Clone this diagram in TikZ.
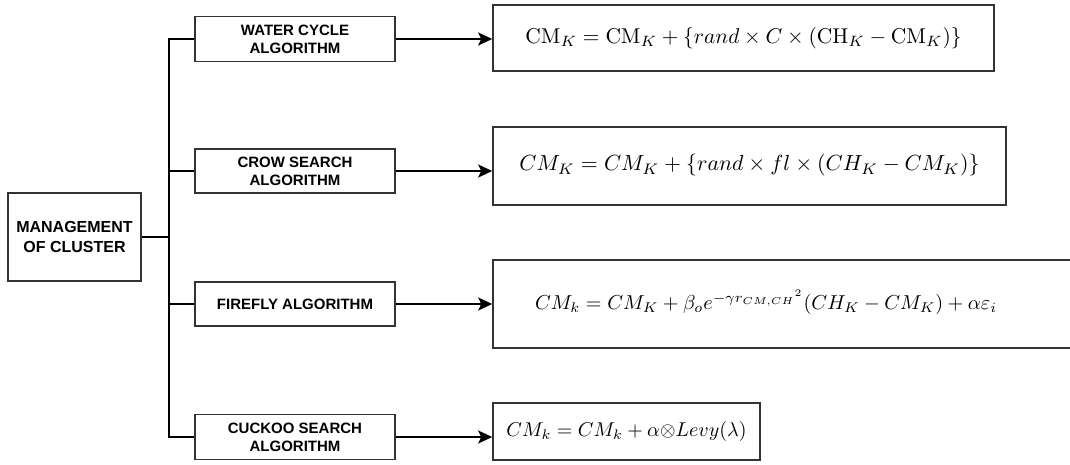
\documentclass[tikz,border=0pt]{standalone}
\usepackage{fontspec}
\usepackage{graphicx}
\setsansfont{Liberation Sans}
\usetikzlibrary{arrows.meta}
\begin{document}
\begin{tikzpicture}[x=1pt,y=-1pt,
  box/.style={draw=black!80,line width=1.6pt,rectangle,inner sep=0pt},
  algo/.style={box,minimum width=200pt,minimum height=45pt,align=center,
     font=\sffamily\bfseries\fontsize{15}{18}\selectfont},
  fbox/.style={box},
  conn/.style={line width=1.8pt,black},
  arr/.style={conn,-{Stealth[length=14pt,width=13pt,inset=3pt]}}]
\useasboundingbox (0,0) rectangle (1070,464);
\clip (0,0) rectangle (1070,464);
% left box
\node[box,minimum width=133pt,minimum height=88pt,align=center,
  font=\sffamily\bfseries\fontsize{16}{20.5}\selectfont] (mgmt) at (74.5,237) {MANAGEMENT\\OF CLUSTER};
% algorithm boxes
\node[algo] (water) at (295,39) {WATER CYCLE\\ALGORITHM};
\node[algo,minimum height=44pt] (crow) at (295,171) {CROW SEARCH\\ALGORITHM};
\node[algo,minimum height=44pt] (firefly) at (295,304) {FIREFLY ALGORITHM};
\node[algo] (cuckoo) at (295,437) {CUCKOO SEARCH\\ALGORITHM};
% formula boxes
\node[fbox,minimum width=501pt,minimum height=66pt] (f1) at (743.5,38)
  {\raisebox{3pt}{\resizebox{436pt}{!}{$\mathrm{CM}_K=\mathrm{CM}_K+\{rand\times C\times(\mathrm{CH}_K-\mathrm{CM}_K)\}$}}};
\node[fbox,minimum width=513pt,minimum height=78pt] (f2) at (749.5,166)
  {\raisebox{7pt}{\resizebox{460pt}{!}{$CM_K=CM_K+\{rand\times fl\times(CH_K-CM_K)\}$}}};
\node[fbox,minimum width=582pt,minimum height=88pt] (f3) at (784,304) {};
\node (f3t) at (766,302) {\resizebox{462pt}{!}{$CM_k=CM_K+\beta_o e^{-\gamma r_{CM,CH}{}^{2}}(CH_K-CM_K)+\alpha\varepsilon_i$}};
\node[fbox,minimum width=267pt,minimum height=57pt] (f4) at (626.5,431.5)
  {\raisebox{4pt}{\resizebox{240pt}{!}{$CM_k=CM_k+\alpha{\otimes}Levy(\lambda)$}}};
% trunk
\coordinate (ttop) at (169,39);
\coordinate (tbot) at (169,437);
\draw[conn] (water.west) -- (ttop) -- (tbot) -- (cuckoo.west);
\draw[conn] (crow.west) -- (crow.west -| ttop);
\draw[conn] (firefly.west) -- (firefly.west -| ttop);
\draw[conn] (mgmt.east) -- (mgmt.east -| ttop);
% arrows
\draw[arr] (water.east) -- (water.east -| f1.west);
\draw[arr] (crow.east) -- (crow.east -| f2.west);
\draw[arr] (firefly.east) -- (firefly.east -| f3.west);
\draw[arr] (cuckoo.east) -- (cuckoo.east -| f4.west);
\end{tikzpicture}
\end{document}
